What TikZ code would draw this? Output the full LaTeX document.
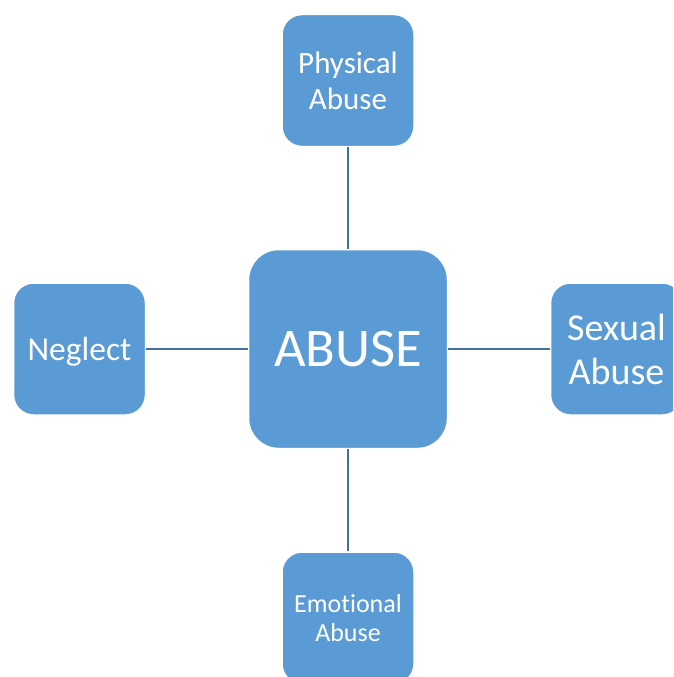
\documentclass[tikz,border=0pt]{standalone}
\usepackage{fontspec}
\setmainfont[Ligatures=NoCommon]{Carlito}
\definecolor{boxblue}{HTML}{5B9BD5}
\definecolor{lineblue}{HTML}{41719C}

\begin{document}
\begin{tikzpicture}[x=1pt,y=-1pt,
  box/.style={fill=boxblue,draw=white,line width=1.5pt,text=white,align=center,
    minimum width=132pt,minimum height=132pt,inner sep=0pt,rounded corners=20pt},
  link/.style={draw=lineblue,line width=2pt}]
\useasboundingbox (0,0) rectangle (673,677);
\clip (0,0) rectangle (673,677);
%Kästen
\node[box,minimum width=199pt,minimum height=199pt,rounded corners=30pt,
  font=\fontsize{54.5}{60}\selectfont] (abuse) at (348,349) {ABUSE};
\node[box,font=\fontsize{31}{36}\selectfont] (phys) at (348,80.5) {Physical\\Abuse};
\node[box,font=\fontsize{33.5}{38}\selectfont] (negl) at (79.5,349)
  {\raisebox{-3pt}[\height][\depth]{Neglect}};
\node[box,font=\fontsize{38}{44}\selectfont] (sex) at (616.5,349) {Sexual\\Abuse};
\node[box,font=\fontsize{26}{29}\selectfont] (emo) at (348,618) {Emotional\\Abuse};
%Verbindungen
\draw[link] (abuse) -- (phys);
\draw[link] (abuse) -- (negl);
\draw[link] (abuse) -- (sex);
\draw[link] (abuse) -- (emo);
\end{tikzpicture}
\end{document}
